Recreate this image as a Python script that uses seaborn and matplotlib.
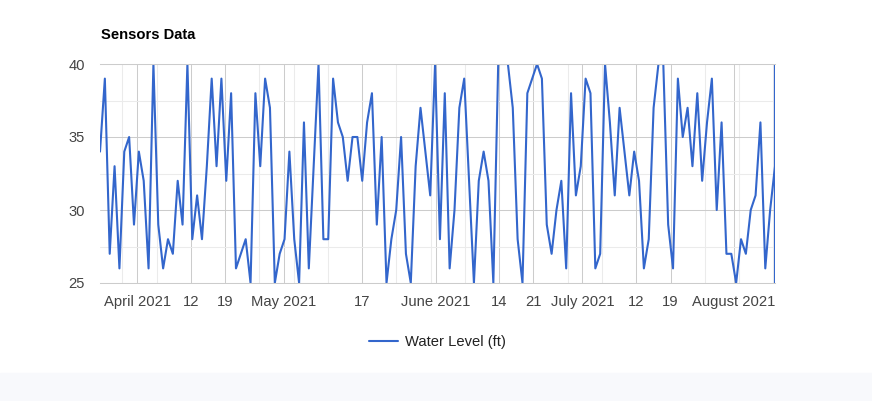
import matplotlib
matplotlib.use("Agg")
import matplotlib.pyplot as plt
import pandas as pd
import seaborn as sns

# Readings (one value per sample)
water_level = [
    34, 39, 27, 33, 26, 34, 35, 29, 34, 32,
    26, 40, 29, 26, 28, 27, 32, 29, 40, 28,
    31, 28, 33, 39, 33, 39, 32, 38, 26, 27,
    28, 25, 38, 33,
    39, 37, 25, 27, 28, 34, 28, 25, 36, 26,
    33, 40, 28, 28, 39, 36, 35, 32, 35, 35,
    32, 36, 38, 29, 35, 25, 28, 30, 35, 27,
    25, 33, 37, 34, 31, 40,
    28, 38, 26, 30, 37, 39, 32, 25, 32, 34,
    32, 25, 40, 40, 40, 37, 28, 25, 38, 39,
    40, 39, 29, 27, 30, 32, 26, 38, 31, 33,
    39, 38, 26, 27,
    40, 36, 31, 37, 34, 31, 34, 32, 26, 28,
    37, 40, 40, 29, 26, 39, 35, 37, 33, 38,
    32, 36, 39, 30, 36, 27, 27, 25, 28, 27,
    30, 31, 36, 26, 30, 33,
]
first_time = "2021-03-24 10:00"
last_time = "2021-08-09 08:30"
# extra readings logged at the last timestamp (the vertical stroke at the right edge)
last_extra = [40, 25]

tick_dates = ["2021-04-01", "2021-04-12", "2021-04-19", "2021-05-01", "2021-05-17",
              "2021-06-01", "2021-06-14", "2021-06-21", "2021-07-01", "2021-07-12",
              "2021-07-19", "2021-08-01"]
tick_labels = ["April 2021", "12", "19", "May 2021", "17", "June 2021", "14", "21",
               "July 2021", "12", "19", "August 2021"]
y_ticks = [25, 30, 35, 40]
y_minor = [27.5, 32.5, 37.5]

times = list(pd.date_range(first_time, last_time, periods=len(water_level)))
df = pd.DataFrame({
    "date": times + [times[-1]] * len(last_extra),
    "value": water_level + last_extra,
})

sns.set_style("white")
plt.rcParams["font.family"] = ["Liberation Sans", "DejaVu Sans"]

fig = plt.figure(figsize=(8.72, 4.01), dpi=100)
ax = fig.add_axes([100 / 872, 1 - 283 / 401, 675 / 872, 219 / 401])

sns.lineplot(data=df, x="date", y="value", estimator=None, sort=False,
             color="#3366cc", linewidth=1.5, label="Water Level (ft)", ax=ax)

ax.set_xlim(times[0], times[-1])
ax.set_ylim(25, 40)

major = pd.to_datetime(tick_dates)
mondays = pd.date_range("2021-03-29", "2021-08-09", freq="W-MON")
minor = [d for d in mondays if d not in set(major)]
ax.set_xticks(major)
ax.set_xticklabels(tick_labels)
ax.set_xticks(minor, minor=True)
ax.set_yticks(y_ticks)
ax.set_yticks(y_minor, minor=True)

ax.grid(which="major", color="#cccccc", linewidth=0.75)
ax.grid(which="minor", color="#ebebeb", linewidth=0.75)
ax.set_axisbelow(True)
ax.tick_params(which="both", length=0, labelsize=10.6, colors="#444444")
ax.tick_params(axis="x", pad=8.5)
ax.tick_params(axis="y", pad=11)
for side in ["left", "right"]:
    ax.spines[side].set_visible(False)
for side in ["top", "bottom"]:
    ax.spines[side].set_color("#cccccc")
    ax.spines[side].set_linewidth(0.75)
ax.set_xlabel("")
ax.set_ylabel("")

handles, labels = ax.get_legend_handles_labels()
ax.get_legend().remove()
fig.legend(handles, labels, loc="center", bbox_to_anchor=(437 / 872, 59 / 401),
           frameon=False, fontsize=10.6, handlelength=2.0, handletextpad=0.45,
           labelcolor="#222222")

fig.text(101 / 872, 1 - 39 / 401, "Sensors Data", fontsize=10.6, fontweight="bold",
         color="#000000", va="baseline")

fig.patches.append(plt.Rectangle((0, 0), 1, 28 / 401, transform=fig.transFigure,
                                 color="#f8f9fc", zorder=0))

fig.savefig("out.png", dpi=100)
